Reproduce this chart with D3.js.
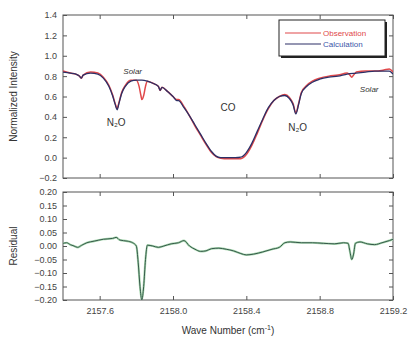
<!DOCTYPE html>
<html lang="en">
<head>
    <meta charset="utf-8">
    <script type="text/javascript" src="https://d3js.org/d3.v7.min.js"></script>
    <style>
        body { margin: 0; background: #fff; }
        text { font-family: "Liberation Sans", Arial, sans-serif; }
    </style>
</head>

<body>
    <script type="text/javascript">
        // SVG width and height
        let w = 410;
        let h = 340;

        // Calculation spectrum (wave number, normalized intensity)
        let calcWave = [2157.40, 2157.44, 2157.47, 2157.49, 2157.50, 2157.51, 2157.55, 2157.59, 2157.62, 2157.65,
                        2157.67, 2157.685, 2157.695, 2157.705, 2157.72, 2157.74, 2157.77, 2157.80, 2157.83, 2157.86,
                        2157.89, 2157.92, 2157.93, 2157.94, 2157.97, 2158.00, 2158.02, 2158.03, 2158.06, 2158.09,
                        2158.12, 2158.15, 2158.18, 2158.21, 2158.235, 2158.26, 2158.30, 2158.34, 2158.37, 2158.40,
                        2158.43, 2158.46, 2158.49, 2158.52, 2158.55, 2158.58, 2158.61, 2158.635, 2158.655, 2158.67,
                        2158.685, 2158.70, 2158.73, 2158.76, 2158.80, 2158.85, 2158.90, 2158.95, 2159.00, 2159.05,
                        2159.10, 2159.15, 2159.18, 2159.20];
        let calcValues = [0.84, 0.83, 0.82, 0.80, 0.78, 0.81, 0.83, 0.82, 0.78, 0.70,
                          0.61, 0.52, 0.47, 0.53, 0.63, 0.70, 0.75, 0.76, 0.76, 0.75,
                          0.73, 0.70, 0.66, 0.69, 0.65, 0.60, 0.56, 0.56, 0.49, 0.41,
                          0.32, 0.23, 0.14, 0.06, 0.015, 0.0, 0.0, 0.0, 0.005, 0.05,
                          0.14, 0.26, 0.38, 0.49, 0.56, 0.60, 0.61, 0.58, 0.52, 0.43,
                          0.52, 0.63, 0.70, 0.74, 0.77, 0.79, 0.80, 0.82, 0.83, 0.84,
                          0.85, 0.85, 0.85, 0.82];

        // Observation spectrum
        let obsWave = [2157.40, 2157.44, 2157.47, 2157.49, 2157.50, 2157.51, 2157.55, 2157.59, 2157.62, 2157.65,
                       2157.67, 2157.685, 2157.695, 2157.705, 2157.72, 2157.74, 2157.77, 2157.80, 2157.815, 2157.825,
                       2157.83, 2157.84, 2157.85, 2157.86, 2157.89, 2157.92, 2157.93, 2157.94, 2157.97, 2158.00,
                       2158.02, 2158.03, 2158.06, 2158.09, 2158.12, 2158.15, 2158.18, 2158.21, 2158.235, 2158.26,
                       2158.30, 2158.34, 2158.37, 2158.40, 2158.43, 2158.46, 2158.49, 2158.52, 2158.55, 2158.58,
                       2158.61, 2158.635, 2158.655, 2158.67, 2158.685, 2158.70, 2158.73, 2158.76, 2158.80, 2158.85,
                       2158.90, 2158.95, 2158.965, 2158.975, 2158.985, 2159.00, 2159.05, 2159.10, 2159.15, 2159.18,
                       2159.20];
        let obsValues = [0.85, 0.83, 0.82, 0.80, 0.78, 0.81, 0.84, 0.83, 0.79, 0.71,
                         0.62, 0.53, 0.48, 0.54, 0.64, 0.71, 0.76, 0.76, 0.70, 0.61,
                         0.57, 0.61, 0.70, 0.75, 0.73, 0.70, 0.66, 0.69, 0.65, 0.60,
                         0.57, 0.57, 0.50, 0.41, 0.31, 0.22, 0.13, 0.05, 0.01, -0.005,
                         -0.01, -0.01, -0.01, 0.03, 0.12, 0.24, 0.37, 0.48, 0.56, 0.60,
                         0.62, 0.59, 0.53, 0.44, 0.53, 0.64, 0.71, 0.75, 0.78, 0.80,
                         0.81, 0.83, 0.81, 0.79, 0.81, 0.84, 0.85, 0.85, 0.86, 0.87,
                         0.84];

        // Residual (observation - calculation)
        let resWave = [2157.40, 2157.42, 2157.44, 2157.46, 2157.48, 2157.50, 2157.53, 2157.57, 2157.62, 2157.67,
                       2157.69, 2157.71, 2157.75, 2157.78, 2157.80, 2157.81, 2157.82, 2157.83, 2157.84, 2157.85,
                       2157.86, 2157.89, 2157.92, 2157.95, 2157.99, 2158.03, 2158.06, 2158.09, 2158.12, 2158.15,
                       2158.18, 2158.21, 2158.25, 2158.29, 2158.33, 2158.37, 2158.40, 2158.44, 2158.49, 2158.54,
                       2158.58, 2158.61, 2158.64, 2158.70, 2158.76, 2158.82, 2158.88, 2158.93, 2158.955, 2158.965,
                       2158.975, 2158.985, 2158.995, 2159.02, 2159.06, 2159.10, 2159.14, 2159.18, 2159.20];
        let resValues = [0.010, 0.012, 0.005, 0.000, -0.005, 0.002, 0.012, 0.018, 0.025, 0.028,
                         0.032, 0.022, 0.018, 0.012, 0.000, -0.060, -0.150, -0.200, -0.150, -0.050,
                         0.003, 0.000, -0.005, 0.000, 0.008, 0.012, 0.020, 0.000, -0.012, -0.020,
                         -0.018, -0.010, -0.008, -0.012, -0.018, -0.028, -0.033, -0.030, -0.022, -0.012,
                         -0.005, 0.012, 0.015, 0.012, 0.012, 0.010, 0.008, 0.012, 0.010, -0.020,
                         -0.050, -0.030, 0.010, 0.015, 0.008, 0.005, 0.012, 0.020, 0.025];

        // Tick labels
        let xTicks = [2157.6, 2158.0, 2158.4, 2158.8, 2159.2];
        let yTopTicks = [-0.2, 0.0, 0.2, 0.4, 0.6, 0.8, 1.0, 1.2, 1.4];
        let yResTicks = [-0.20, -0.15, -0.10, -0.05, 0.00, 0.05, 0.10, 0.15, 0.20];

        // Create SVG element
        let svg = d3.select("body").append("svg")
                    .attr("width", w)
                    .attr("height", h);

        let left = 63, right = 393;
        let topPanel = { y0: 15, y1: 178 };
        let resPanel = { y0: 192, y1: 300 };

        let x = d3.scaleLinear().domain([2157.4, 2159.2]).range([left, right]);
        let yTop = d3.scaleLinear().domain([-0.2, 1.4]).range([topPanel.y1, topPanel.y0]);
        let yRes = d3.scaleLinear().domain([-0.2, 0.2]).range([resPanel.y1, resPanel.y0]);

        // Draw frame with inward ticks on all four sides
        function drawFrame(yScale, yTicks, panel, fmt, showX) {
            let g = svg.append("g");
            g.append("g")
                .attr("transform", "translate(" + left + ",0)")
                .call(d3.axisLeft(yScale).tickValues(yTicks).tickSize(-4).tickPadding(6).tickFormat(fmt));
            g.append("g")
                .attr("transform", "translate(" + right + ",0)")
                .call(d3.axisRight(yScale).tickValues(yTicks).tickSize(-4).tickFormat(""));
            g.append("g")
                .attr("transform", "translate(0," + panel.y0 + ")")
                .call(d3.axisTop(x).tickValues(xTicks).tickSize(-4).tickFormat(""));
            g.append("g")
                .attr("transform", "translate(0," + panel.y1 + ")")
                .call(d3.axisBottom(x).tickValues(xTicks).tickSize(-4).tickPadding(8)
                    .tickFormat(showX ? d3.format(".1f") : ""));
            g.selectAll(".domain").remove();
            g.selectAll(".tick line").attr("stroke", "#555");
            g.selectAll(".tick text").attr("fill", "#444").attr("font-size", "9px")
                .attr("font-family", "Liberation Sans, Arial, sans-serif");
            g.append("rect")
                .attr("x", left).attr("y", panel.y0)
                .attr("width", right - left).attr("height", panel.y1 - panel.y0)
                .attr("fill", "none").attr("stroke", "#555").attr("stroke-width", 1);
        }

        drawFrame(yTop, yTopTicks, topPanel, d3.format(".1f"), false);
        drawFrame(yRes, yResTicks, resPanel, d3.format(".2f"), true);

        // Clip paths
        svg.append("clipPath").attr("id", "clipTop").append("rect")
            .attr("x", left).attr("y", topPanel.y0).attr("width", right - left).attr("height", topPanel.y1 - topPanel.y0);
        svg.append("clipPath").attr("id", "clipRes").append("rect")
            .attr("x", left).attr("y", resPanel.y0).attr("width", right - left).attr("height", resPanel.y1 - resPanel.y0);

        let lineTop = d3.line()
            .x(d => x(d[0]))
            .y(d => yTop(d[1]))
            .curve(d3.curveMonotoneX);
        let lineRes = d3.line()
            .x(d => x(d[0]))
            .y(d => yRes(d[1]))
            .curve(d3.curveMonotoneX);

        svg.append("path")
            .datum(d3.zip(obsWave, obsValues))
            .attr("d", lineTop)
            .attr("clip-path", "url(#clipTop)")
            .attr("fill", "none")
            .attr("stroke", "#e0484a")
            .attr("stroke-width", 1.5);

        svg.append("path")
            .datum(d3.zip(calcWave, calcValues))
            .attr("d", lineTop)
            .attr("clip-path", "url(#clipTop)")
            .attr("fill", "none")
            .attr("stroke", "#2c2f66")
            .attr("stroke-width", 1.3);

        svg.append("path")
            .datum(d3.zip(resWave, resValues))
            .attr("d", lineRes)
            .attr("clip-path", "url(#clipRes)")
            .attr("fill", "none")
            .attr("stroke", "#a8d8b0")
            .attr("stroke-width", 2.2);
        svg.append("path")
            .datum(d3.zip(resWave, resValues))
            .attr("d", lineRes)
            .attr("clip-path", "url(#clipRes)")
            .attr("fill", "none")
            .attr("stroke", "#36594a")
            .attr("stroke-width", 1);

        // Axis titles
        svg.append("text")
            .attr("transform", "translate(17," + ((topPanel.y0 + topPanel.y1) / 2) + ") rotate(-90)")
            .attr("text-anchor", "middle")
            .attr("font-size", "10px")
            .attr("fill", "#333")
            .text("Normalized Intensity");
        svg.append("text")
            .attr("transform", "translate(17," + ((resPanel.y0 + resPanel.y1) / 2) + ") rotate(-90)")
            .attr("text-anchor", "middle")
            .attr("font-size", "10px")
            .attr("fill", "#333")
            .text("Residual");
        let xt = svg.append("text")
            .attr("x", (left + right) / 2)
            .attr("y", 334)
            .attr("text-anchor", "middle")
            .attr("font-size", "10px")
            .attr("fill", "#333");
        xt.append("tspan").text("Wave Number (cm");
        xt.append("tspan").attr("dy", -4).attr("font-size", "7px").text("-1");
        xt.append("tspan").attr("dy", 4).text(")");

        // Annotations
        let labels = [
            { t: "Solar", wn: 2157.78, v: 0.82, italic: true, size: 8 },
            { t: "N\u2082O", wn: 2157.69, v: 0.31, italic: false, size: 10 },
            { t: "CO", wn: 2158.30, v: 0.46, italic: false, size: 10 },
            { t: "N\u2082O", wn: 2158.68, v: 0.26, italic: false, size: 10 },
            { t: "Solar", wn: 2159.07, v: 0.64, italic: true, size: 8 }
        ];
        svg.selectAll(".anno")
            .data(labels)
            .join("text")
                .attr("class", "anno")
                .attr("x", d => x(d.wn))
                .attr("y", d => yTop(d.v))
                .attr("text-anchor", "middle")
                .attr("font-size", d => d.size + "px")
                .attr("font-style", d => d.italic ? "italic" : "normal")
                .attr("fill", "#333")
                .text(d => d.t);

        // Legend
        let lg = svg.append("g").attr("transform", "translate(279,20)");
        lg.append("rect").attr("x", 2).attr("y", 2).attr("width", 106).attr("height", 36).attr("fill", "#222");
        lg.append("rect").attr("x", 0).attr("y", 0).attr("width", 106).attr("height", 36)
            .attr("fill", "#fff").attr("stroke", "#222").attr("stroke-width", 1);
        let entries = [
            { name: "Observation", color: "#e0484a", text: "#e0484a" },
            { name: "Calculation", color: "#2c2f66", text: "#3b55a8" }
        ];
        entries.forEach(function(e, i) {
            lg.append("line")
                .attr("x1", 6).attr("x2", 42)
                .attr("y1", 13 + i * 11).attr("y2", 13 + i * 11)
                .attr("stroke", e.color).attr("stroke-width", 1.2);
            lg.append("text")
                .attr("x", 44).attr("y", 16 + i * 11)
                .attr("font-size", "8px")
                .attr("fill", e.text)
                .text(e.name);
        });
    </script>
</body>
</html>
